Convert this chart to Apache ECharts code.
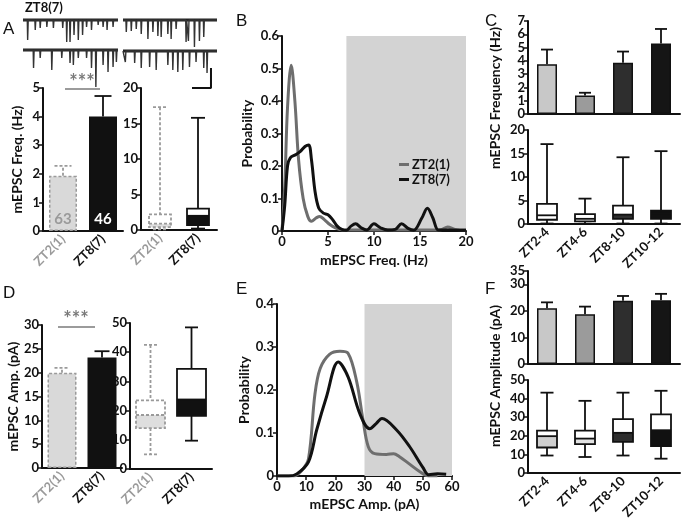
<!DOCTYPE html>
<html><head><meta charset="utf-8">
<script src="https://cdn.jsdelivr.net/npm/echarts@6/dist/echarts.min.js"></script>
<style>html,body{margin:0;padding:0;background:#fff}#c{width:685px;height:522px}</style>
</head><body><div id="c"></div>
<script>
// ================= DATA =================
// example traces (ZT8(7)): [time (% of sweep), event amplitude]
const traceTL = [[4.9,20],[12.9,10],[18.1,8],[25.1,7],[32,8],[41.8,8],[46,22],[49.5,22],[53.7,15],[58.2,20],[62.7,15],[66.9,7],[72.1,10],[79.1,5],[84.3,7],[88.5,10],[94.8,7]];
const traceBL = [[11.1,18],[18.1,8],[30.3,20],[40.8,8],[49.5,13],[53,15],[58.2,8],[66.9,8],[72.1,18],[76.7,37],[84.3,15],[89.5,22],[94.8,17],[98.3,12]];
const traceTR = [[3.5,12],[8.8,11],[14.1,9],[19.4,14],[26.5,19],[31.8,12],[37.1,16],[40.6,17],[47.7,14],[51.2,19],[56.5,9],[67.1,22],[69.6,21],[76,27],[81.3,21],[85.9,17]];
const traceBR = [[2.5,11],[12.4,12],[19.4,17],[28.3,16],[35.3,19],[47.7,14],[53,19],[58.3,21],[63.6,19],[70.7,16],[77.7,11],[85.9,17],[89.4,22]];
const scaleBarPts = [[93.6,-17],[93.6,-37],[73.4,-37]];

// A / D : two groups
const groupsAD = ['ZT2(1)', 'ZT8(7)'];
const freqMeanA = [1.93, 4.0];
const freqErrTopA = [2.28, 4.72];
const cellsN = [63, 46];
// box: [min, q1, median, q3, max]
const freqBoxA = [[0.1, 0.4, 0.9, 2.2, 17.3], [0.2, 0.7, 2.0, 3.0, 15.8]];
const ampMeanD = [20.0, 23.2];
const ampErrTopD = [21.0, 24.5];
const ampBoxD = [[5, 14, 18.5, 23.5, 42.5], [9.7, 18.2, 23.8, 34.3, 48.5]];

// B : frequency probability distributions [Hz, probability]
const freqDistZT2 = [[0,0],[0.3,0.14],[0.6,0.38],[1,0.51],[1.4,0.4],[1.8,0.22],[2.3,0.1],[2.8,0.045],[3.2,0.03],[3.7,0.04],[4.1,0.045],[4.6,0.035],[5.2,0.02],[5.8,0.01],[6.5,0.004],[8,0.003],[10,0.003],[12,0.003],[14,0.003],[16,0.003],[17.3,0.004],[18,0.012],[18.8,0.005],[20,0.003]];
const freqDistZT8 = [[0,0],[0.3,0.08],[0.6,0.2],[0.9,0.225],[1.5,0.235],[2,0.245],[2.5,0.26],[2.9,0.265],[3.2,0.22],[3.6,0.12],[4,0.07],[4.5,0.055],[5,0.05],[5.5,0.035],[6,0.015],[6.5,0.005],[7,0.002],[7.5,0.015],[8,0.022],[8.6,0.01],[9.2,0.003],[10,0.022],[10.7,0.01],[11.5,0.003],[12.3,0.005],[13,0.022],[13.7,0.008],[14.3,0.002],[15.2,0.04],[15.8,0.07],[16.4,0.04],[17,0.003],[18,0.003],[20,0.002]];
const shadeB = [7, 20];

// E : amplitude probability distributions [pA, probability]
const ampDistZT2 = [[0,0],[5.7,0],[8.5,0.013],[10.8,0.04],[13,0.19],[14.8,0.25],[18,0.283],[21.6,0.29],[24.4,0.285],[27.3,0.22],[29.5,0.13],[31.3,0.068],[33.5,0.052],[37.5,0.05],[40,0.052],[42,0.045],[45,0.03],[49,0.01],[52,0],[55,0]];
const ampDistZT8 = [[0,0],[4,0],[6.8,0.005],[10.8,0.033],[13.6,0.107],[17,0.185],[21,0.265],[24.4,0.23],[28.4,0.145],[31.8,0.11],[34,0.122],[36,0.134],[41,0.107],[45.5,0.068],[50,0.02],[52,0.003],[55,0.005],[58,0.004]];
const shadeE = [30, 60];

// C / F : four time windows
const groupsCF = ['ZT2-4', 'ZT4-6', 'ZT8-10', 'ZT10-12'];
const freqMeanC = [3.75, 1.4, 3.85, 5.3];
const freqErrTopC = [4.85, 1.6, 4.7, 6.4];
const freqBoxC = [[0.1,0.9,1.85,4.3,17.0],[0.05,0.55,1.1,2.1,5.4],[0.1,1.1,2.0,3.9,14.2],[0.1,1.1,2.2,2.85,15.5]];
const ampMeanF = [21.0, 18.7, 23.8, 24.0];
const ampErrTopF = [23.2, 21.6, 25.6, 26.4];
const ampBoxF = [[9.4,13.7,19.8,22.8,43.2],[8.6,15.5,18.5,22.8,38.8],[9.4,16.7,21.6,29.0,43.2],[7.7,14.4,23.0,31.5,44.2]];

// ================= STYLE =================
const FONT = 'Lato';
const INK = '#111';
const GREY = '#9a9a9a';
const styleAD = [
  {stroke: GREY, dash: [3, 2], fill: '#d9d9d9', lower: '#dedede', upper: '#fff', text: GREY},
  {stroke: INK, dash: null, fill: INK, lower: INK, upper: '#fff', text: INK}
];
const barColorsCF = ['#c8c8c8', '#9b9b9b', '#2e2e2e', '#151515'];
const boxStyleC = [
  {stroke: INK, dash: null, lower: '#fff', upper: '#fff'},
  {stroke: INK, dash: null, lower: '#fff', upper: '#fff'},
  {stroke: INK, dash: null, lower: '#2e2e2e', upper: '#fff'},
  {stroke: INK, dash: null, lower: INK, upper: INK}
];
const boxStyleF = [
  {stroke: INK, dash: null, lower: '#cfcfcf', upper: '#fff'},
  {stroke: INK, dash: null, lower: '#e2e2e2', upper: '#fff'},
  {stroke: INK, dash: null, lower: '#2e2e2e', upper: '#fff'},
  {stroke: INK, dash: null, lower: INK, upper: '#fff'}
];

const grids = [
  {left: 23, top: 16, width: 95, height: 44},   // 0 trace TL
  {left: 23, top: 46, width: 95, height: 44},   // 1 trace BL
  {left: 123, top: 16, width: 94, height: 44},  // 2 trace TR
  {left: 123, top: 47, width: 94, height: 44},  // 3 trace BR
  {left: 43, top: 88, width: 80, height: 143},  // 4 A bar
  {left: 141, top: 88, width: 76, height: 142}, // 5 A box
  {left: 282, top: 36, width: 184, height: 195},// 6 B
  {left: 528, top: 21, width: 152, height: 93}, // 7 C top
  {left: 528, top: 130, width: 152, height: 94},// 8 C bottom
  {left: 42, top: 325, width: 80, height: 143}, // 9 D bar
  {left: 130, top: 323, width: 82, height: 146},// 10 D box
  {left: 277, top: 304, width: 175, height: 172},// 11 E
  {left: 528, top: 271, width: 152, height: 93},// 12 F top
  {left: 528, top: 380, width: 152, height: 93} // 13 F bottom
];

const axisLine = {lineStyle: {color: INK, width: 2}};
const axisTick = {length: 4, lineStyle: {color: INK, width: 1.5}};
const lbl = {color: INK, fontFamily: FONT, fontWeight: 'bold', fontSize: 13, margin: 3};
const nameStyle = {color: INK, fontFamily: FONT, fontWeight: 'bold', fontSize: 14};

function hiddenX(i) { return {type: 'value', gridIndex: i, min: 0, max: 100, show: false}; }
function hiddenY(i) { return {type: 'value', gridIndex: i, min: -40, max: 4, show: false}; }
function catX(i, cats, showLabels, colorFn) {
  return {
    type: 'category', gridIndex: i, data: cats, axisLine: axisLine, axisTick: {show: false},
    axisLabel: showLabels ? {
      ...lbl, rotate: 45, margin: 6,
      formatter: v => (colorFn && colorFn(v)) ? '{g|' + v + '}' : '{b|' + v + '}',
      rich: {g: {color: GREY, fontFamily: FONT, fontWeight: 'bold', fontSize: 13},
             b: {color: INK, fontFamily: FONT, fontWeight: 'bold', fontSize: 13}}
    } : {show: false},
    splitLine: {show: false}
  };
}
function valY(i, min, max, interval, name, gap) {
  const o = {type: 'value', gridIndex: i, min, max, interval, axisLine: {show: true, ...axisLine},
    axisTick: {show: true, ...axisTick}, axisLabel: lbl, splitLine: {show: false}};
  if (name) Object.assign(o, {name, nameLocation: 'middle', nameGap: gap, nameTextStyle: nameStyle});
  return o;
}
function valX(i, min, max, interval, name, gap) {
  return {type: 'value', gridIndex: i, min, max, interval, axisLine: {show: true, ...axisLine},
    axisTick: {show: true, ...axisTick}, axisLabel: {...lbl, margin: 4}, splitLine: {show: false},
    name, nameLocation: 'middle', nameGap: gap, nameTextStyle: nameStyle};
}
const isZT2 = v => v === 'ZT2(1)';

function traceData(spikes) {
  const pts = [[0, 0]];
  spikes.forEach(([t, a]) => { pts.push([t - 0.4, 0], [t, -a], [t + 0.6, 0]); });
  pts.push([100, 0]);
  return pts;
}
function traceSeries(i, spikes) {
  return [
    {type: 'line', xAxisIndex: i, yAxisIndex: i, data: [[0, 0], [100, 0]], symbol: 'none', silent: true,
     lineStyle: {color: '#222', width: 3.2}, animation: false},
    {type: 'line', xAxisIndex: i, yAxisIndex: i, data: traceData(spikes), symbol: 'none', silent: true,
     lineStyle: {color: '#333', width: 1.4}, animation: false}
  ];
}

function barSeries(i, values, styleFn, barWidth, labelFn) {
  return {
    type: 'bar', xAxisIndex: i, yAxisIndex: i, barWidth, animation: false, z: 3,
    data: values.map((v, k) => {
      const s = styleFn(k);
      const d = {value: v, itemStyle: {color: s.fill, borderColor: s.stroke, borderWidth: 1.5,
        borderType: s.dash ? s.dash : 'solid'}};
      if (labelFn) d.label = labelFn(k);
      return d;
    })
  };
}
function errSeries(i, means, tops, styleFn, capW) {
  return {
    type: 'custom', xAxisIndex: i, yAxisIndex: i, animation: false, z: 2,
    data: means.map((m, k) => [k, m, tops[k]]),
    renderItem: (params, api) => {
      const k = api.value(0);
      const s = styleFn(k);
      const p0 = api.coord([k, api.value(1)]);
      const p1 = api.coord([k, api.value(2)]);
      const st = {stroke: s.stroke, lineWidth: 1.8, lineDash: s.dash || null, fill: null};
      return {type: 'group', children: [
        {type: 'line', shape: {x1: p0[0], y1: p0[1], x2: p1[0], y2: p1[1]}, style: st},
        {type: 'line', shape: {x1: p1[0] - capW / 2, y1: p1[1], x2: p1[0] + capW / 2, y2: p1[1]}, style: st}
      ]};
    }
  };
}
function boxSeries(i, boxes, styleFn, boxW, capW) {
  return {
    type: 'custom', xAxisIndex: i, yAxisIndex: i, animation: false, z: 3,
    data: boxes.map((b, k) => [k].concat(b)),
    renderItem: (params, api) => {
      const k = api.value(0);
      const s = styleFn(k);
      const y = v => api.coord([k, v])[1];
      const x = api.coord([k, 0])[0];
      const yMin = y(api.value(1)), yQ1 = y(api.value(2)), yMed = y(api.value(3)),
            yQ3 = y(api.value(4)), yMax = y(api.value(5));
      const ln = {stroke: s.stroke, lineWidth: 1.8, lineDash: s.dash || null};
      const L = (x1, y1, x2, y2) => ({type: 'line', shape: {x1, y1, x2, y2}, style: ln});
      return {type: 'group', children: [
        L(x, yMax, x, yQ3), L(x - capW / 2, yMax, x + capW / 2, yMax),
        L(x, yQ1, x, yMin), L(x - capW / 2, yMin, x + capW / 2, yMin),
        {type: 'rect', shape: {x: x - boxW / 2, y: yMed, width: boxW, height: yQ1 - yMed}, style: {fill: s.lower}},
        {type: 'rect', shape: {x: x - boxW / 2, y: yQ3, width: boxW, height: yMed - yQ3}, style: {fill: s.upper}},
        {type: 'rect', shape: {x: x - boxW / 2, y: yQ3, width: boxW, height: yQ1 - yQ3},
         style: {fill: null, stroke: s.stroke, lineWidth: 1.8, lineDash: s.dash || null}},
        L(x - boxW / 2, yMed, x + boxW / 2, yMed)
      ]};
    }
  };
}
function curve(i, name, data, color) {
  return {type: 'line', name, xAxisIndex: i, yAxisIndex: i, data, smooth: 0.35, symbol: 'none', z: 4,
    lineStyle: {color, width: 3}, itemStyle: {color}, animation: false};
}
function shade(i, range, ymax) {
  return {type: 'line', xAxisIndex: i, yAxisIndex: i, data: [], z: 1, silent: true, animation: false,
    markArea: {silent: true, itemStyle: {color: '#d3d3d3'},
      data: [[{coord: [range[0], 0]}, {coord: [range[1], ymax]}]]}};
}

const nLabel = k => ({show: true, position: 'insideBottom', distance: 4, formatter: String(cellsN[k]),
  color: k === 0 ? GREY : '#fff', fontFamily: FONT, fontSize: 15, fontWeight: 'bold'});

const option = {
  backgroundColor: '#fff',
  animation: false,
  grid: grids,
  xAxis: [
    hiddenX(0), hiddenX(1), hiddenX(2), hiddenX(3),
    catX(4, groupsAD, true, isZT2),
    catX(5, groupsAD, true, isZT2),
    valX(6, 0, 20, 5, 'mEPSC Freq. (Hz)', 22),
    catX(7, groupsCF, false),
    catX(8, groupsCF, true),
    catX(9, groupsAD, true, isZT2),
    catX(10, groupsAD, true, isZT2),
    valX(11, 0, 60, 10, 'mEPSC Amp. (pA)', 21),
    catX(12, groupsCF, false),
    catX(13, groupsCF, true)
  ],
  yAxis: [
    hiddenY(0), hiddenY(1), hiddenY(2), hiddenY(3),
    valY(4, 0, 5, 1, 'mEPSC Freq. (Hz)', 19),
    valY(5, 0, 20, 5),
    valY(6, 0, 0.6, 0.1, 'Probability', 28),
    valY(7, 0, 7, 1),
    valY(8, 0, 20, 5),
    valY(9, 0, 30, 5, 'mEPSC Amp. (pA)', 21),
    valY(10, 0, 50, 10),
    valY(11, 0, 0.4, 0.1, 'Probability', 26),
    valY(12, 0, 35, 10),
    valY(13, 0, 50, 10)
  ],
  legend: {
    left: 399, top: 158, orient: 'vertical', itemWidth: 10, itemHeight: 3, itemGap: 2, padding: 0,
    icon: 'rect', data: ['ZT2(1)', 'ZT8(7)'],
    textStyle: {color: INK, fontFamily: FONT, fontWeight: 'bold', fontSize: 13, padding: [0, 0, 0, -2]}
  },
  series: [
    ...traceSeries(0, traceTL), ...traceSeries(1, traceBL),
    ...traceSeries(2, traceTR), ...traceSeries(3, traceBR),
    {type: 'line', xAxisIndex: 3, yAxisIndex: 3, data: scaleBarPts, symbol: 'none', silent: true,
     lineStyle: {color: '#111', width: 2}, animation: false},
    // A
    barSeries(4, freqMeanA, k => styleAD[k], 28, nLabel),
    errSeries(4, freqMeanA, freqErrTopA, k => styleAD[k], 17),
    boxSeries(5, freqBoxA, k => styleAD[k], 22, 14),
    // B
    shade(6, shadeB, 0.6),
    curve(6, 'ZT2(1)', freqDistZT2, '#6e6e6e'),
    curve(6, 'ZT8(7)', freqDistZT8, '#111'),
    // C
    barSeries(7, freqMeanC, k => ({fill: barColorsCF[k], stroke: INK}), 20),
    errSeries(7, freqMeanC, freqErrTopC, k => ({stroke: INK}), 12),
    boxSeries(8, freqBoxC, k => boxStyleC[k], 20, 13),
    // D
    barSeries(9, ampMeanD, k => styleAD[k], 29),
    errSeries(9, ampMeanD, ampErrTopD, k => styleAD[k], 15),
    boxSeries(10, ampBoxD, k => styleAD[k], 29, 13),
    // E
    shade(11, shadeE, 0.4),
    curve(11, 'ZT2(1)', ampDistZT2, '#6e6e6e'),
    curve(11, 'ZT8(7)', ampDistZT8, '#111'),
    // F
    barSeries(12, ampMeanF, k => ({fill: barColorsCF[k], stroke: INK}), 20),
    errSeries(12, ampMeanF, ampErrTopF, k => ({stroke: INK}), 12),
    boxSeries(13, ampBoxF, k => boxStyleF[k], 20, 13)
  ],
  graphic: [
    {type: 'text', left: 3, top: 21, style: {text: 'A', font: '17px "Liberation Sans"', fill: INK}},
    {type: 'text', left: 236, top: 13, style: {text: 'B', font: '17px "Liberation Sans"', fill: INK}},
    {type: 'text', left: 485, top: 13, style: {text: 'C', font: '17px "Liberation Sans"', fill: INK}},
    {type: 'text', left: 3, top: 285, style: {text: 'D', font: '17px "Liberation Sans"', fill: INK}},
    {type: 'text', left: 236, top: 281, style: {text: 'E', font: '17px "Liberation Sans"', fill: INK}},
    {type: 'text', left: 485, top: 281, style: {text: 'F', font: '17px "Liberation Sans"', fill: INK}},
    {type: 'text', left: 25, top: 1, style: {text: 'ZT8(7)', font: 'bold 13px Lato', fill: INK}},
    // significance markers
    {type: 'text', x: 82, y: 83, style: {text: '***', font: 'bold 20px Lato', fill: '#7a7a7a', align: 'center', verticalAlign: 'middle'}},
    {type: 'line', shape: {x1: 65, y1: 89, x2: 100, y2: 89}, style: {stroke: '#7a7a7a', lineWidth: 1.5}},
    {type: 'text', x: 76, y: 320, style: {text: '***', font: 'bold 20px Lato', fill: '#7a7a7a', align: 'center', verticalAlign: 'middle'}},
    {type: 'line', shape: {x1: 58, y1: 327, x2: 95, y2: 327}, style: {stroke: '#7a7a7a', lineWidth: 1.5}},
    // shared y titles for C and F
    {type: 'text', x: 495, y: 98, rotation: Math.PI / 2,
     style: {text: 'mEPSC Frequency (Hz)', font: 'bold 14px Lato', fill: INK, align: 'center', verticalAlign: 'middle'}},
    {type: 'text', x: 495, y: 376, rotation: Math.PI / 2,
     style: {text: 'mEPSC Amplitude (pA)', font: 'bold 14px Lato', fill: INK, align: 'center', verticalAlign: 'middle'}}
  ]
};

const chart = echarts.init(document.getElementById('c'), null, {renderer: 'canvas'});
chart.setOption(option);
</script>
</body></html>
